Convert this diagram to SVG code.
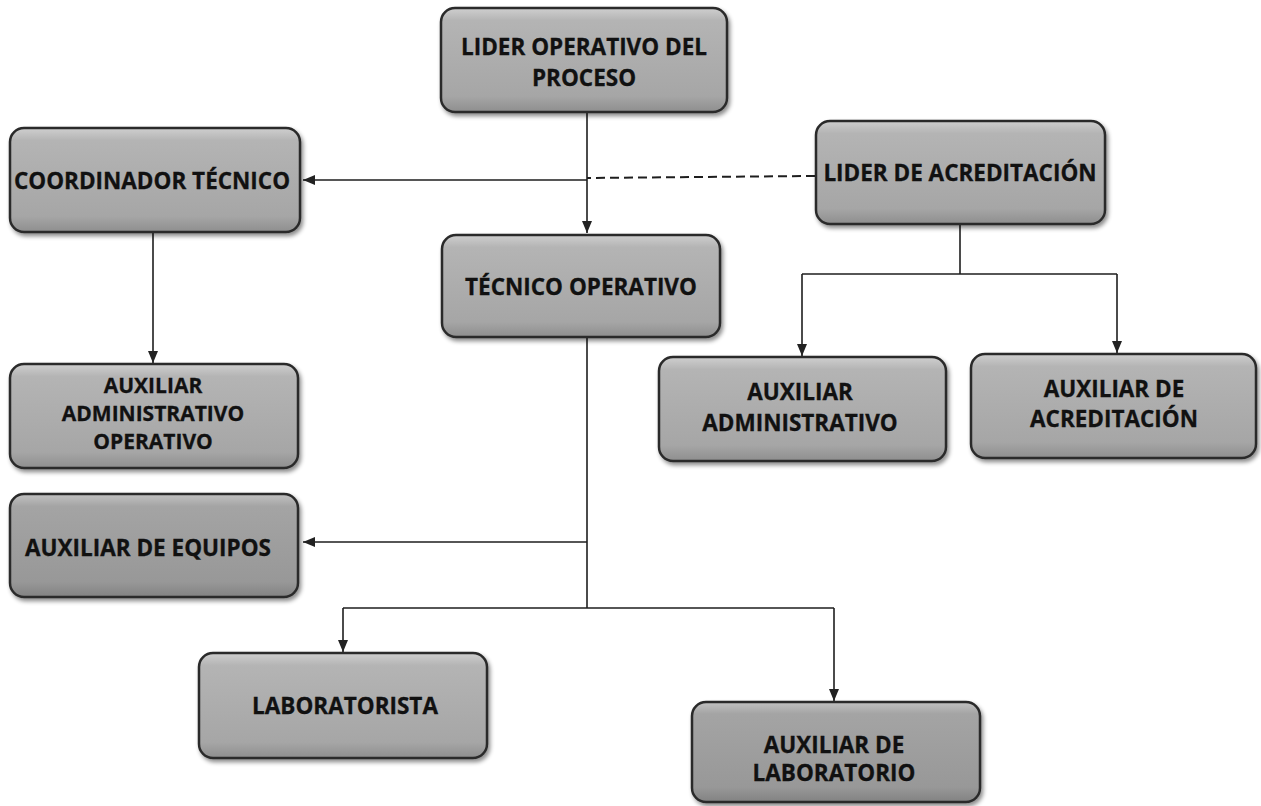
<svg xmlns="http://www.w3.org/2000/svg" width="1261" height="806" viewBox="0 0 1261 806">
<style>
.box{fill:url(#g);stroke:#2b2b2b;stroke-width:2.5;filter:url(#sh)}
.dark{fill:url(#gd)}
.t{font-family:"Open Sans","Liberation Sans",sans-serif;font-weight:700;font-size:22.5px;fill:#111;stroke:#111;stroke-width:0.3;text-anchor:middle}
.s{font-size:21px}
.c{fill:none;stroke:#1e1e1e;stroke-width:1.6}
.a{marker-end:url(#ar)}
.d{stroke-dasharray:9 5;stroke-width:2}
</style>
<defs>
<linearGradient id="g" x1="0" y1="0" x2="0" y2="1">
<stop offset="0" stop-color="#cfcfcf"/>
<stop offset="0.12" stop-color="#b4b4b4"/>
<stop offset="0.85" stop-color="#a6a6a6"/>
<stop offset="1" stop-color="#8e8e8e"/>
</linearGradient>
<linearGradient id="gd" x1="0" y1="0" x2="0" y2="1">
<stop offset="0" stop-color="#c2c2c2"/>
<stop offset="0.12" stop-color="#a4a4a4"/>
<stop offset="0.85" stop-color="#989898"/>
<stop offset="1" stop-color="#828282"/>
</linearGradient>
<filter id="sh" x="-10%" y="-10%" width="120%" height="130%">
<feDropShadow dx="2" dy="3" stdDeviation="2" flood-color="#000" flood-opacity="0.45"/>
</filter>
<marker id="ar" viewBox="0 0 12 10" refX="12" refY="5" markerWidth="12" markerHeight="10" markerUnits="userSpaceOnUse" orient="auto">
<path d="M0 0 L12 5 L0 10 Z" fill="#222"/>
</marker>
</defs>
<rect width="1261" height="806" fill="#fff"/>
<g id="connectors">
<path class="c a" d="M587 112 V233"/>
<path class="c a" d="M587 180 H303"/>
<path class="c d" d="M815 176 L587 178"/>
<path class="c a" d="M153 232 V363"/>
<path class="c" d="M960 224 V274"/>
<path class="c" d="M802 274 H1117"/>
<path class="c a" d="M802 274 V356"/>
<path class="c a" d="M1117 274 V353"/>
<path class="c" d="M587 337 V608"/>
<path class="c a" d="M587 542 H303"/>
<path class="c" d="M343 608 H834"/>
<path class="c a" d="M343 608 V652"/>
<path class="c a" d="M834 608 V701"/>
</g>
<g id="lider-operativo">
<rect class="box" x="441" y="8" width="286" height="104" rx="14"/>
<text class="t" x="584" y="55">LIDER OPERATIVO DEL</text>
<text class="t" x="584" y="86">PROCESO</text>
</g>
<g id="coordinador-tecnico">
<rect class="box" x="10" y="128" width="290" height="104" rx="14"/>
<text class="t" x="152" y="189">COORDINADOR TÉCNICO</text>
</g>
<g id="lider-acreditacion">
<rect class="box" x="816" y="121" width="289" height="103" rx="14"/>
<text class="t" x="960" y="181">LIDER DE ACREDITACIÓN</text>
</g>
<g id="tecnico-operativo">
<rect class="box" x="442" y="235" width="278" height="102" rx="14"/>
<text class="t" x="581" y="295">TÉCNICO OPERATIVO</text>
</g>
<g id="aux-admin-operativo">
<rect class="box" x="10" y="364" width="288" height="104" rx="14"/>
<text class="t s" x="153" y="393">AUXILIAR</text>
<text class="t s" x="153" y="421">ADMINISTRATIVO</text>
<text class="t s" x="153" y="449">OPERATIVO</text>
</g>
<g id="aux-equipos">
<rect class="box dark" x="10" y="494" width="288" height="103" rx="14"/>
<text class="t" x="148" y="556">AUXILIAR DE EQUIPOS</text>
</g>
<g id="aux-administrativo">
<rect class="box" x="659" y="357" width="287" height="104" rx="14"/>
<text class="t" x="800" y="400">AUXILIAR</text>
<text class="t" x="800" y="431">ADMINISTRATIVO</text>
</g>
<g id="aux-acreditacion">
<rect class="box" x="971" y="354" width="285" height="104" rx="14"/>
<text class="t" x="1114" y="397">AUXILIAR DE</text>
<text class="t" x="1114" y="427">ACREDITACIÓN</text>
</g>
<g id="laboratorista">
<rect class="box" x="199" y="653" width="288" height="105" rx="14"/>
<text class="t" x="345" y="714">LABORATORISTA</text>
</g>
<g id="aux-laboratorio">
<rect class="box dark" x="692" y="702" width="288" height="100" rx="14"/>
<text class="t" x="834" y="753">AUXILIAR DE</text>
<text class="t" x="834" y="781">LABORATORIO</text>
</g>
</svg>
